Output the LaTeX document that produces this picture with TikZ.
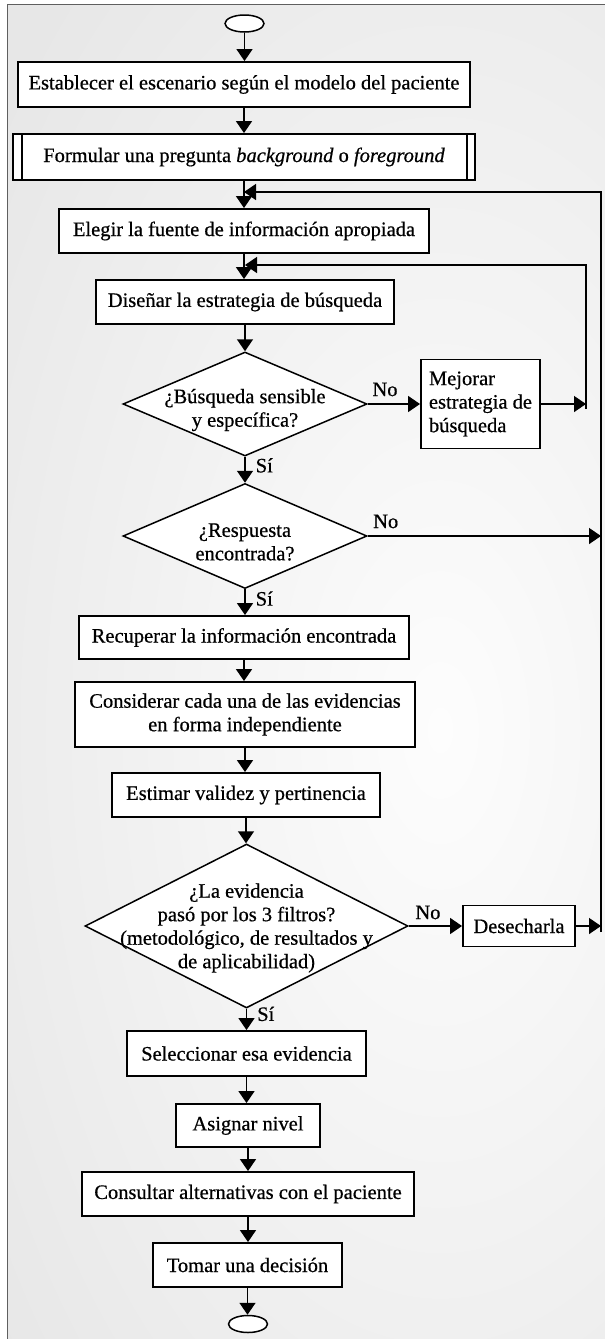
\documentclass[tikz,border=0pt]{standalone}
\usepackage{fontspec}
\setmainfont{Liberation Serif}[FakeBold=0.6]
\usetikzlibrary{shapes.geometric,arrows.meta,calc}

\definecolor{pagegray}{RGB}{231,231,231}
\definecolor{pagelight}{RGB}{253,253,253}
\definecolor{framegray}{RGB}{95,95,95}

\tikzset{
  txt/.style={font=\fontsize{20.5pt}{23.5pt}\selectfont},
  sz/.style 2 args={minimum width=#1pt, minimum height=#2pt},
  stepbox/.style={txt, draw, line width=1.9pt, fill=white, rectangle,
    inner sep=0pt, align=center},
  decision/.style={draw, line width=1.5pt, fill=white, diamond, inner sep=0pt},
  terminal/.style={draw, line width=1.5pt, fill=white, ellipse, inner sep=0pt,
    minimum width=39pt, minimum height=17pt},
  flow/.style={line width=1.5pt, -{Triangle[length=12pt,width=16pt]}},
  lbl/.style={txt, inner sep=0pt},
  inside/.style={txt, align=center, inner sep=0pt},
}

\begin{document}
\begin{tikzpicture}[x=1pt,y=-1pt]
  \useasboundingbox (0,0) rectangle (605,1339);

  % shaded page background and its frame
  \fill[pagegray] (7,4) rectangle (605,1339);
  \begin{scope}
    \clip (7,4) rectangle (605,1339);
    \shade[inner color=pagelight, outer color=pagegray]
      (440,730) ellipse [x radius=560, y radius=1000];
  \end{scope}
  \draw[framegray, line width=1pt] (7,1339) -- (7,4) -- (605,4);

  % terminals
  \node[terminal] (start) at (244.5,23.5) {};
  \node[terminal] (stop) at (248,1324) {};

  % process steps
  \node[stepbox, sz={452}{45}] (b1) at (244,84.5)
    {Establecer el escenario según el modelo del paciente};
  \node[stepbox, sz={462}{46}] (b2) at (244,157)
    {Formular una pregunta \textit{background} o \textit{foreground}};
  \draw[line width=1.5pt] ([xshift=10pt]b2.north west) -- ([xshift=10pt]b2.south west);
  \draw[line width=1.5pt] ([xshift=-9pt]b2.north east) -- ([xshift=-9pt]b2.south east);
  \node[stepbox, sz={370}{44}] (b3) at (244,231)
    {Elegir la fuente de información apropiada};
  \node[stepbox, sz={298}{44}] (b4) at (245,302)
    {Diseñar la estrategia de búsqueda};

  \node[decision, sz={244}{104},
    label={[inside, yshift=-6pt]center:{¿Búsqueda sensible\\y específica?}}] (d1) at (245,404) {};
  \node[stepbox, sz={119}{89}, align=left] (mej) at (480.5,404)
    {Mejorar\\estrategia de\\búsqueda};

  \node[decision, sz={244}{105},
    label={[inside, yshift=-6pt]center:{¿Respuesta\\encontrada?}}] (d2) at (245,536) {};

  \node[stepbox, sz={330}{43}] (rec) at (244,637.5)
    {Recuperar la información encontrada};
  \node[stepbox, sz={340}{65}] (con) at (245,714.5)
    {Considerar cada una de las evidencias\\en forma independiente};
  \node[stepbox, sz={268}{44}] (est) at (246,795)
    {Estimar validez y pertinencia};

  \node[decision, sz={323}{164},
    label={[inside, yshift=-2pt]center:{¿La evidencia\\pasó por los 3 filtros?\\(metodológico, de resultados y\\de aplicabilidad)}}]
    (d3) at (246.5,926) {};
  \node[stepbox, sz={112}{41}] (des) at (519,926) {Desecharla};

  \node[stepbox, sz={239}{45}] (sel) at (246.5,1053.5) {Seleccionar esa evidencia};
  \node[stepbox, sz={144}{43}] (asi) at (248,1125.5) {Asignar nivel};
  \node[stepbox, sz={332}{44}] (cons) at (248,1194)
    {Consultar alternativas con el paciente};
  \node[stepbox, sz={189}{44}] (tom) at (247.5,1265) {Tomar una decisión};

  % return lines on the right
  \coordinate (outtop) at (601,192);
  \coordinate (outbot) at (601,932);
  \coordinate (intop) at (586,265);
  \coordinate (inbot) at (586,409);

  % main flow
  \draw[flow] (start) -- (start |- b1.north);
  \draw[flow] (b1) -- (b1 |- b2.north);
  \draw[flow] (b2) -- (b2 |- b3.north);
  \draw[flow] (b3) -- (b3 |- b4.north);
  \draw[flow] (b4) -- (b4 |- d1.north);
  \draw[flow] (d1) -- (d1 |- d2.north)
    node[lbl, pos=0.33, right=10pt] (si1) {Sí};
  \draw[flow] (d2) -- (d2 |- rec.north)
    node[lbl, pos=0.36, right=10pt] (si2) {Sí};
  \draw[flow] (rec) -- (rec |- con.north);
  \draw[flow] (con) -- (con |- est.north);
  \draw[flow] (est) -- (est |- d3.north);
  \draw[flow] (d3) -- (d3 |- sel.north)
    node[lbl, pos=0.24, right=10pt] (si3) {Sí};
  \draw[flow] (sel) -- (sel |- asi.north);
  \draw[flow] (asi) -- (asi |- cons.north);
  \draw[flow] (cons) -- (cons |- tom.north);
  \draw[flow] (tom) -- (tom |- stop.north);

  % branches
  \draw[flow] (d1.east) -- (mej.west |- d1.east)
    node[lbl, pos=0.33, above=7pt] (no1) {No};
  \draw[flow] (mej.east) -- (mej.east -| inbot);
  \draw[flow] (d2.east) -- (d2.east -| outbot)
    node[lbl, pos=0.077, above=7pt] (no2) {No};
  \draw[flow] (d3.east) -- (des.west)
    node[lbl, pos=0.36, above=6pt] (no3) {No};
  \draw[flow] (des.east) -- (des.east -| outbot);

  % loops back into the column
  \draw[flow] (inbot) -- (intop) -- (b4.north |- intop);
  \draw[flow] (outbot) -- (outtop) -- (b3.north |- outtop);
\end{tikzpicture}
\end{document}
